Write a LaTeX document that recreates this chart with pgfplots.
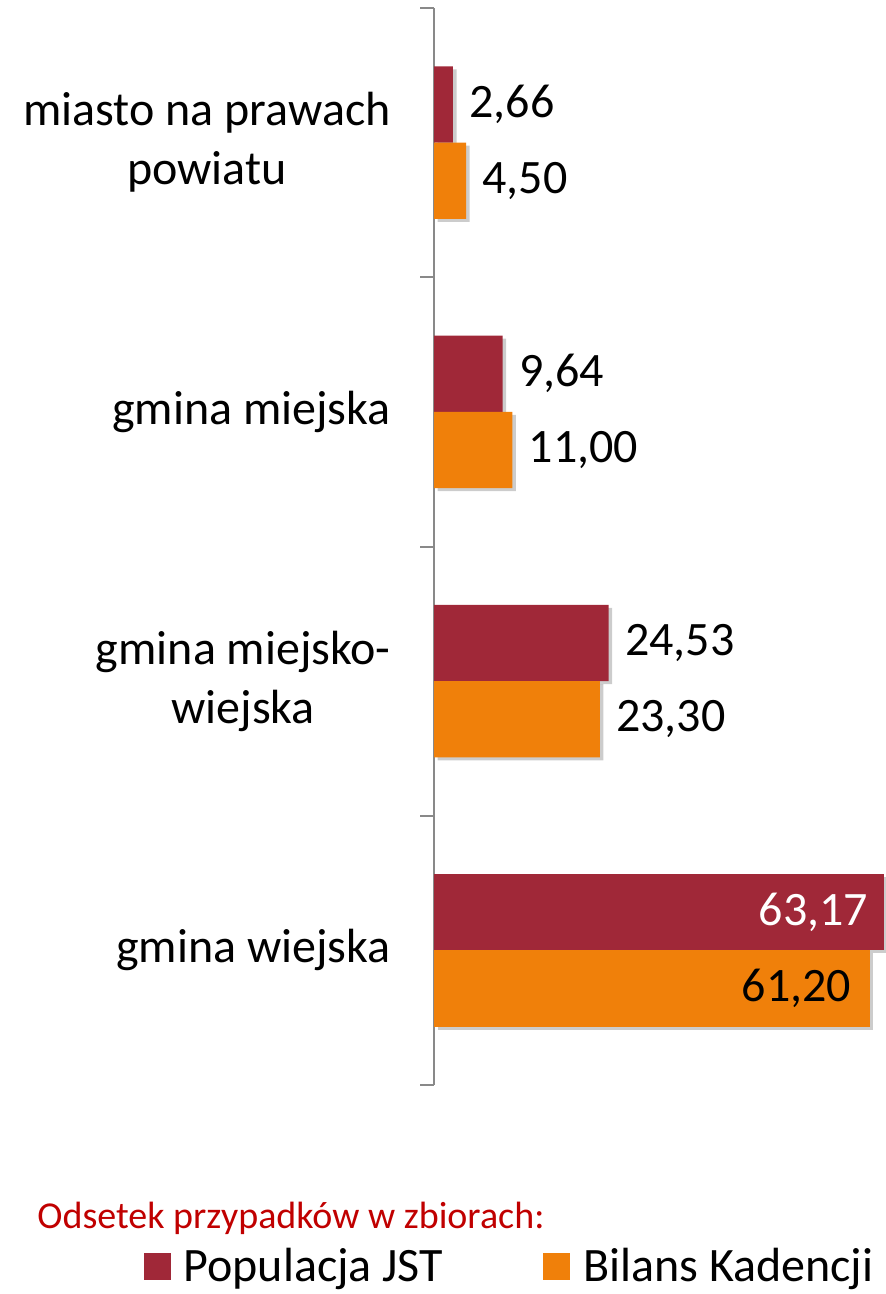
\documentclass[border=0pt]{standalone}
\usepackage{fontspec}
\setmainfont{Carlito}
\usepackage{pgfplots}
\pgfplotsset{compat=1.18}
\usetikzlibrary{shadows}

\definecolor{cPop}{RGB}{160,40,56}
\definecolor{cBil}{RGB}{240,128,10}
\definecolor{axgray}{RGB}{137,137,137}
\definecolor{ttlred}{RGB}{192,0,0}

\newcommand{\bigfont}{\fontsize{24}{29.5}\selectfont}

\begin{document}
\begin{tikzpicture}
% page frame, 1px = 0.5pt
\path (0,0) rectangle (443pt,-647pt);
\begin{axis}[
  at={(217pt,-542.5pt)}, anchor=south west,
  scale only axis, width=226pt, height=538.5pt,
  xbar, bar width=0.283,
  xmin=0, xmax=63.5,
  ymin=-0.5, ymax=3.5, y dir=reverse,
  axis x line=none, axis y line*=left,
  y axis line style={draw=axgray, line width=1pt},
  xtick=\empty,
  ytick={0,1,2,3},
  yticklabels={{miasto na prawach\\powiatu},{gmina miejska},{gmina miejsko-\\wiejska},{gmina wiejska}},
  major tick length=0pt,
  yticklabel style={align=center, inner sep=0pt, xshift=-21.5pt, font=\bigfont},
  extra y ticks={-0.5,0.5,1.5,2.5,3.5},
  extra y tick labels={},
  extra y tick style={major tick length=7pt, tick align=outside,
    tick style={draw=axgray, line width=1pt}},
  clip=false,
  point meta=x,
  nodes near coords={\pgfmathprintnumber[fixed, fixed zerofill, precision=2, use comma, assume math mode=true]{\pgfplotspointmeta}},
  every node near coord/.append style={font=\bigfont, inner sep=0pt, anchor=west, xshift=8pt, text=black},
  shd/.style={drop shadow={shadow xshift=1.8pt, shadow yshift=-1.5pt, fill=black, opacity=0.2}},
  legend columns=2,
  legend style={at={(-0.6435,-0.1685)}, anchor=west, draw=none, fill=none,
    inner sep=0pt, font=\bigfont, nodes={inner sep=0pt},
    /tikz/every even column/.append style={column sep=50pt}},
  legend image code/.code={\fill[#1] (0pt,-6.75pt) rectangle (13.5pt,6.75pt);
    \path[draw=none, fill=none] (0pt,-6.75pt) rectangle (20pt,6.75pt);},
]
% Populacja JST
\addplot[forget plot, fill=cPop, draw=none, bar shift=-0.1415, shd]
  coordinates {(2.66,0) (9.64,1) (24.53,2)};
\addplot[forget plot, fill=cPop, draw=none, bar shift=-0.1415, shd,
  every node near coord/.append style={anchor=east, xshift=-15.5pt, text=white}]
  coordinates {(63.17,3)};
% Bilans Kadencji
\addplot[forget plot, fill=cBil, draw=none, bar shift=0.1415, shd]
  coordinates {(4.50,0) (11.00,1) (23.30,2)};
\addplot[forget plot, fill=cBil, draw=none, bar shift=0.1415, shd,
  every node near coord/.append style={anchor=east, xshift=-17pt, text=black}]
  coordinates {(61.20,3)};
\addlegendimage{fill=cPop, draw=none}
\addlegendentry{Populacja JST}
\addlegendimage{fill=cBil, draw=none}
\addlegendentry{Bilans Kadencji}
\end{axis}
\node[anchor=base west, text=ttlred, inner sep=0pt, font=\fontsize{19}{22}\selectfont]
  at (18.5pt,-614pt) {Odsetek przypadków w zbiorach:};
\end{tikzpicture}
\end{document}
